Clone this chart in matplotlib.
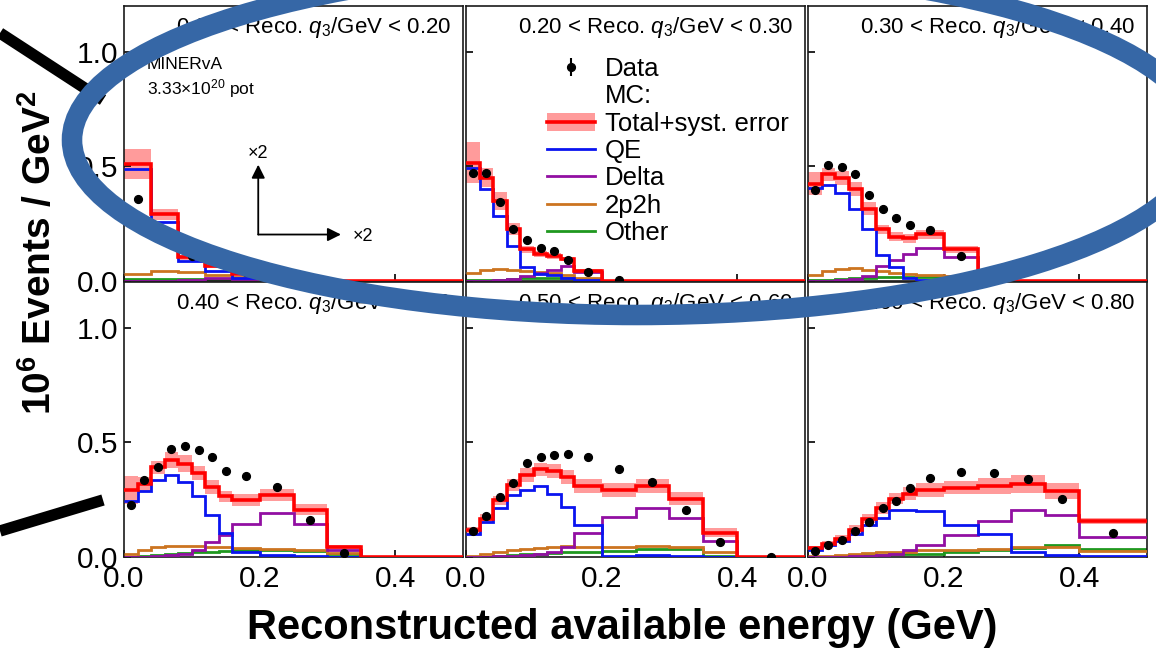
import numpy as np
import matplotlib
matplotlib.use("Agg")
import matplotlib.pyplot as plt
from matplotlib.patches import Ellipse, Patch
from matplotlib.lines import Line2D
from matplotlib.ticker import FormatStrFormatter

plt.rcParams['font.family'] = ['Liberation Sans', 'DejaVu Sans']
plt.rcParams['mathtext.fontset'] = 'custom'
plt.rcParams['mathtext.rm'] = 'Liberation Sans'
plt.rcParams['mathtext.it'] = 'Liberation Sans:italic'
plt.rcParams['mathtext.bf'] = 'Liberation Sans:bold'

# ---------------- data ----------------
edges = [0, 0.02, 0.04, 0.06, 0.08, 0.10, 0.12, 0.14, 0.16, 0.20, 0.25, 0.30, 0.35, 0.40, 0.50]
q3_ranges = [("0.00", "0.20"), ("0.20", "0.30"), ("0.30", "0.40"),
             ("0.40", "0.50"), ("0.50", "0.60"), ("0.60", "0.80")]
x_scale = [2, 1, 1, 1, 1, 1]   # first panel drawn x2 (as noted by the arrows)
nan = np.nan

total = [
    [0.509, 0.291, 0.103, 0.065, 0.030, 0.010, 0.003, 0, 0, 0, 0, 0, 0, 0],
    [0.516, 0.451, 0.349, 0.226, 0.139, 0.117, 0.110, 0.096, 0.045, 0, 0, 0, 0, 0],
    [0.425, 0.465, 0.451, 0.400, 0.316, 0.226, 0.194, 0.186, 0.204, 0.139, 0, 0, 0, 0],
    [0.292, 0.318, 0.391, 0.423, 0.408, 0.365, 0.306, 0.265, 0.248, 0.270, 0.207, 0.044, 0, 0],
    [0.117, 0.168, 0.248, 0.314, 0.357, 0.382, 0.375, 0.350, 0.309, 0.292, 0.309, 0.255, 0.106, 0],
    [0.039, 0.058, 0.080, 0.120, 0.168, 0.214, 0.255, 0.277, 0.292, 0.303, 0.309, 0.318, 0.289, 0.158],
]
syst = [
    [0.065, 0.025, 0.012, 0.008, 0.004, 0.002, 0.001, 0, 0, 0, 0, 0, 0, 0],
    [0.090, 0.040, 0.040, 0.025, 0.015, 0.012, 0.012, 0.010, 0.008, 0, 0, 0, 0, 0],
    [0.050, 0.030, 0.030, 0.030, 0.030, 0.020, 0.020, 0.020, 0.020, 0.015, 0, 0, 0, 0],
    [0.060, 0.030, 0.030, 0.035, 0.035, 0.030, 0.030, 0.025, 0.025, 0.025, 0.025, 0.010, 0, 0],
    [0.015, 0.020, 0.020, 0.025, 0.030, 0.030, 0.030, 0.030, 0.030, 0.030, 0.030, 0.030, 0.020, 0],
    [0.010, 0.012, 0.015, 0.018, 0.020, 0.025, 0.025, 0.030, 0.030, 0.030, 0.035, 0.040, 0.035, 0.012],
]
qe = [
    [0.487, 0.256, 0.088, 0.045, 0.012, 0.004, 0.001, 0, 0, 0, 0, 0, 0, 0],
    [0.494, 0.400, 0.284, 0.153, 0.060, 0.030, 0.025, 0.012, 0.005, 0, 0, 0, 0, 0],
    [0.407, 0.419, 0.386, 0.316, 0.226, 0.113, 0.060, 0.012, 0.005, 0.002, 0, 0, 0, 0],
    [0.245, 0.287, 0.338, 0.357, 0.328, 0.265, 0.182, 0.106, 0.022, 0.007, 0.003, 0, 0, 0],
    [0.102, 0.153, 0.214, 0.270, 0.292, 0.309, 0.277, 0.219, 0.139, 0.004, 0.007, 0.003, 0, 0],
    [0.032, 0.051, 0.070, 0.102, 0.139, 0.172, 0.204, 0.207, 0.201, 0.141, 0.102, 0.022, 0.007, 0.003],
]
delta = [
    [0.0, 0.002, 0.006, 0.015, 0.008, 0.003, 0.001, 0, 0, 0, 0, 0, 0, 0],
    [0.0, 0.002, 0.005, 0.010, 0.020, 0.035, 0.050, 0.065, 0.040, 0, 0, 0, 0, 0],
    [0.0, 0.002, 0.005, 0.010, 0.020, 0.067, 0.093, 0.117, 0.146, 0.103, 0, 0, 0, 0],
    [0.0, 0.002, 0.005, 0.010, 0.015, 0.030, 0.065, 0.095, 0.146, 0.194, 0.146, 0.032, 0, 0],
    [0.0, 0.002, 0.003, 0.005, 0.008, 0.012, 0.022, 0.044, 0.105, 0.175, 0.214, 0.172, 0.070, 0],
    [0.0, 0.001, 0.002, 0.003, 0.005, 0.008, 0.015, 0.032, 0.051, 0.095, 0.158, 0.204, 0.182, 0.088],
]
twop2h = [
    [0.030, 0.045, 0.039, 0.026, 0.017, 0.008, 0.003, 0, 0, 0, 0, 0, 0, 0],
    [0.035, 0.048, 0.052, 0.048, 0.045, 0.040, 0.035, 0.028, 0.015, 0, 0, 0, 0, 0],
    [0.026, 0.045, 0.052, 0.057, 0.050, 0.045, 0.035, 0.032, 0.028, 0.020, 0, 0, 0, 0],
    [0.012, 0.030, 0.044, 0.048, 0.048, 0.047, 0.044, 0.042, 0.038, 0.036, 0.032, 0.017, 0, 0],
    [0.003, 0.012, 0.022, 0.029, 0.036, 0.041, 0.044, 0.047, 0.044, 0.044, 0.048, 0.044, 0.022, 0],
    [0.003, 0.006, 0.010, 0.013, 0.017, 0.020, 0.022, 0.024, 0.029, 0.031, 0.036, 0.044, 0.044, 0.026],
]
other = [
    [0.008, 0.008, 0.008, 0.007, 0.005, 0.003, 0.001, 0, 0, 0, 0, 0, 0, 0],
    [0.004, 0.005, 0.006, 0.008, 0.012, 0.015, 0.015, 0.013, 0.005, 0, 0, 0, 0, 0],
    [0.003, 0.005, 0.008, 0.012, 0.015, 0.017, 0.018, 0.018, 0.016, 0.010, 0, 0, 0, 0],
    [0.002, 0.004, 0.008, 0.012, 0.016, 0.020, 0.024, 0.027, 0.030, 0.030, 0.028, 0.012, 0, 0],
    [0.000, 0.002, 0.005, 0.008, 0.011, 0.014, 0.017, 0.020, 0.022, 0.026, 0.036, 0.035, 0.003, 0],
    [0.000, 0.001, 0.002, 0.004, 0.007, 0.009, 0.011, 0.013, 0.015, 0.022, 0.032, 0.039, 0.051, 0.036],
]
data = [
    [0.357, 0.212, 0.110, 0.080, 0.040, 0.010, nan, nan, nan, nan, nan, nan, nan, nan],
    [0.472, 0.472, 0.346, 0.229, 0.180, 0.146, 0.132, 0.093, 0.038, 0.004, nan, nan, nan, nan],
    [0.397, 0.506, 0.497, 0.465, 0.375, 0.313, 0.277, 0.243, 0.223, 0.110, nan, nan, nan, nan],
    [0.226, 0.338, 0.394, 0.470, 0.484, 0.467, 0.435, 0.376, 0.353, 0.306, 0.163, 0.019, nan, nan],
    [0.114, 0.181, 0.260, 0.324, 0.411, 0.438, 0.446, 0.451, 0.438, 0.385, 0.328, 0.204, 0.064, 0.0],
    [0.026, 0.051, 0.076, 0.112, 0.153, 0.212, 0.244, 0.303, 0.346, 0.369, 0.365, 0.340, 0.255, 0.106],
]

C_RED, C_BAND = '#FF0000', '#FF9B9B'
C_QE, C_DELTA, C_2P2H, C_OTHER = '#0A14F0', '#920FA2', '#CC7420', '#1F981F'

# ---------------- figure ----------------
W, H = 1156, 649
fig = plt.figure(figsize=(W / 100, H / 100), dpi=100)


def px_rect(x0, y0, x1, y1):
    return [x0 / W, 1 - y1 / H, (x1 - x0) / W, (y1 - y0) / H]


col_x = [124, 466, 808]
pw = 339
row_y = [6, 282]
ph = 275

axes = []
for i in range(6):
    r, c = divmod(i, 3)
    ax = fig.add_axes(px_rect(col_x[c], row_y[r], col_x[c] + pw, row_y[r] + ph))
    axes.append(ax)
    e = np.array(edges) * x_scale[i]
    centers = 0.5 * (e[:-1] + e[1:])
    tot = np.array(total[i])
    err = np.array(syst[i])
    ax.stairs(tot + err, e, baseline=tot - err, fill=True, color=C_BAND, lw=0, zorder=1)
    ax.stairs(other[i], e, baseline=None, color=C_OTHER, lw=2.0, zorder=2)
    ax.stairs(twop2h[i], e, baseline=None, color=C_2P2H, lw=2.0, zorder=3)
    ax.stairs(delta[i], e, baseline=None, color=C_DELTA, lw=2.0, zorder=4)
    ax.stairs(qe[i], e, baseline=None, color=C_QE, lw=2.0, zorder=5)
    ax.stairs(tot, e, baseline=None, color=C_RED, lw=2.6, zorder=6)
    ax.plot(centers, data[i], 'o', color='black', ms=5.6, zorder=7)

    ax.set_xlim(0, 0.5)
    ax.set_ylim(0, 1.2)
    ax.set_xticks([0, 0.2, 0.4])
    ax.set_yticks([0, 0.5, 1.0])
    ax.xaxis.set_major_formatter(FormatStrFormatter('%.1f'))
    ax.yaxis.set_major_formatter(FormatStrFormatter('%.1f'))
    ax.tick_params(direction='in', length=5, width=1.2, labelsize=21.5, pad=4)
    ax.tick_params(axis='x', pad=6)
    ax.tick_params(labelbottom=(r == 1), labelleft=(c == 0))
    for s in ax.spines.values():
        s.set_linewidth(1.2)
        s.set_color('#1a1a1a')
    lo, hi = q3_ranges[i]
    ax.text(0.965, 0.967, f"{lo} < Reco. $q_3$/GeV < {hi}", transform=ax.transAxes,
            ha='right', va='top', fontsize=16, zorder=10)

# MINERvA label and x2 arrows in first panel
ax0 = axes[0]
ax0.text(0.067, 0.815, "MINERvA", transform=ax0.transAxes, fontsize=12.5, va='top')
ax0.text(0.067, 0.742, r"3.33×10$^{20}$ pot", transform=ax0.transAxes, fontsize=12.5, va='top')
arrow_kw = dict(arrowstyle='-|>', color='black', lw=1.3, mutation_scale=20, shrinkA=0, shrinkB=0)
ax0.annotate('', xy=(0.396, 0.423), xytext=(0.396, 0.169), xycoords='axes fraction',
             arrowprops=arrow_kw)
ax0.annotate('', xy=(0.64, 0.169), xytext=(0.396, 0.169), xycoords='axes fraction',
             arrowprops=arrow_kw)
ax0.text(0.396, 0.462, '×2', transform=ax0.transAxes, ha='center', va='center', fontsize=13)
ax0.text(0.676, 0.162, '×2', transform=ax0.transAxes, ha='left', va='center', fontsize=13)

# legend in second panel
h_data = (Line2D([], [], marker='|', ms=13, mew=1.5, color='black', ls='none'),
          Line2D([], [], marker='o', ms=5.6, color='black', ls='none'))
h_mc = Line2D([], [], ls='none')
h_tot = (Patch(facecolor=C_BAND, edgecolor='none'), Line2D([], [], color=C_RED, lw=2.6))
handles = [h_data, h_mc, h_tot,
           Line2D([], [], color=C_QE, lw=2.0),
           Line2D([], [], color=C_DELTA, lw=2.0),
           Line2D([], [], color=C_2P2H, lw=2.0),
           Line2D([], [], color=C_OTHER, lw=2.0)]
labels = ['Data', 'MC:', 'Total+syst. error', 'QE', 'Delta', '2p2h', 'Other']
axes[1].legend(handles, labels, loc='upper left', bbox_to_anchor=(0.24, 0.815),
               frameon=False, fontsize=18.5, handlelength=1.85, handletextpad=0.4,
               labelspacing=0.13, borderpad=0, borderaxespad=0)

# axis titles
fig.text(40 / W, 1 - 253 / H, r"10$^{\mathbf{6}}$ Events / GeV$^{\mathbf{2}}$", rotation=90,
         fontsize=28, fontweight='bold', ha='center', va='center')
fig.text(622 / W, 1 - 639 / H, "Reconstructed available energy (GeV)", fontsize=30,
         fontweight='bold', ha='center', va='baseline')

# overlay annotations (hand-drawn marks on the original figure)
fig.add_artist(Line2D([0, 103 / W], [1 - 33 / H, 1 - 100 / H], transform=fig.transFigure,
                      color='black', lw=8.2, solid_capstyle='butt', zorder=90))
fig.add_artist(Line2D([0, 103 / W], [1 - 531 / H, 1 - 500 / H], transform=fig.transFigure,
                      color='black', lw=8.2, solid_capstyle='butt', zorder=90))
fig.add_artist(Ellipse((637 / W, 1 - 140 / H), 2 * 565 / W, 2 * 175 / H,
                       transform=fig.transFigure, fill=False, ec='#3667A6', lw=14.8,
                       zorder=100, clip_on=False))

fig.savefig("out.png", dpi=100)
